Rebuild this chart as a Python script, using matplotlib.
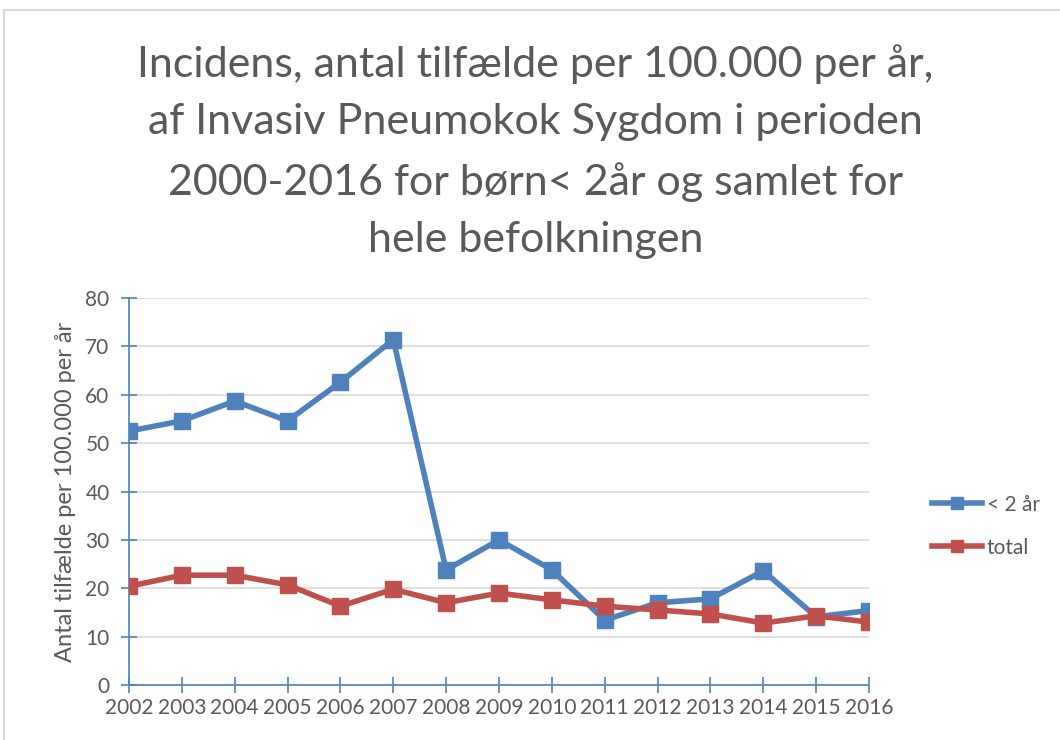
import matplotlib.pyplot as plt
from matplotlib.lines import Line2D

years = ["2002", "2003", "2004", "2005", "2006", "2007", "2008", "2009",
         "2010", "2011", "2012", "2013", "2014", "2015", "2016"]
under2 = [52.5, 54.6, 58.7, 54.6, 62.6, 71.4, 23.8, 30.0, 23.8, 13.4, 17.0, 17.8, 23.6, 14.1, 15.4]
total = [20.4, 22.7, 22.7, 20.7, 16.3, 19.8, 17.0, 19.0, 17.6, 16.3, 15.5, 14.7, 12.8, 14.3, 13.0]

plt.rcParams['font.family'] = ['Lato', 'DejaVu Sans']
grey = '#595959'
axis_blue = '#4F81BD'

fig = plt.figure(figsize=(10.6, 7.4), dpi=100)
ax = fig.add_axes([0.1217, 0.0743, 0.6981, 0.523])

x = range(len(years))
ax.plot(x, under2, color='#4F81BD', lw=4, marker='s', ms=11, label='< 2 år', zorder=3)
ax.plot(x, total, color='#C0504D', lw=4, marker='s', ms=11, label='total', zorder=3)

ax.set_xlim(0, len(years) - 1)
ax.set_ylim(0, 80)
ax.set_yticks(range(0, 81, 10))
ax.set_xticks(list(x))
ax.set_xticklabels(years)
ax.yaxis.grid(True, color='#D9D9D9', lw=1.2)
ax.set_axisbelow(True)

for s in ['top', 'right']:
    ax.spines[s].set_visible(False)
for s in ['left', 'bottom']:
    ax.spines[s].set_color(axis_blue)
    ax.spines[s].set_linewidth(1.2)
ax.tick_params(axis='both', direction='inout', length=12, width=1.2, color=axis_blue,
               labelcolor=grey, labelsize=15)
ax.tick_params(axis='x', pad=3)
ax.tick_params(axis='y', pad=8)

ax.set_ylabel("Antal tilfælde per 100.000 per år", fontsize=17, color=grey, labelpad=7)

fig.text(0.505, 0.94, "Incidens, antal tilfælde per 100.000 per år,\n"
         "af Invasiv Pneumokok Sygdom i perioden\n"
         "2000-2016 for børn< 2år og samlet for\n"
         "hele befolkningen",
         ha='center', va='top', fontsize=31, color=grey, linespacing=1.62)

leg = fig.legend(loc='center left', bbox_to_anchor=(0.862, 0.289), frameon=False,
                 fontsize=15, handlelength=2.4, handletextpad=0.2, labelspacing=1.1,
                 markerscale=0.85)
for t in leg.get_texts():
    t.set_color(grey)

# outer chart frame
fig.add_artist(Line2D([4 / 1060, 4 / 1060], [0, 1 - 10 / 740], color='#D9D9D9', lw=1.5))
fig.add_artist(Line2D([4 / 1060, 1], [1 - 10 / 740, 1 - 10 / 740], color='#D9D9D9', lw=1.5))

fig.savefig("out.png")
